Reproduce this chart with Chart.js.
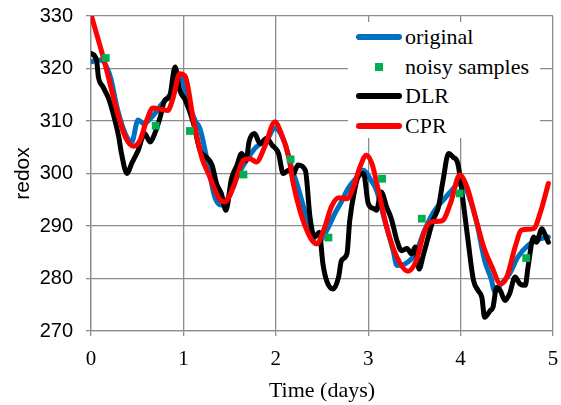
<!DOCTYPE html>
<html>
<head>
<meta charset="utf-8">
<script src="https://cdn.jsdelivr.net/npm/chart.js@4.4.1/dist/chart.umd.min.js"></script>
<style>
  html, body { margin:0; padding:0; background:#fff; }
  #wrap { position:relative; width:561px; height:405px; overflow:hidden; }
  #c { position:absolute; left:0; top:0; }
  #legend { position:absolute; left:348px; top:22px; width:192px; height:116px; background:#fff; }
  .row { position:absolute; left:0; height:30px; width:192px; }
  .sw { position:absolute; left:8px; width:46px; height:6px; top:12px; border-radius:3px; }
  .sq { position:absolute; left:27px; top:11px; width:8px; height:8px; }
  .lab { position:absolute; left:57px; top:0; line-height:30px; font-family:"Liberation Serif", serif; font-size:22px; color:#000; white-space:nowrap; }
</style>
</head>
<body>
<div id="wrap">
  <canvas id="c" width="561" height="405"></canvas>
  <div id="legend"></div>
</div>
<script>
// ---- data ----
const xTicks = [0, 1, 2, 3, 4, 5];
const yTicks = [270, 280, 290, 300, 310, 320, 330];

const seriesNames = ["original", "noisy samples", "DLR", "CPR"];

const originalX = [0, 0.10, 0.21, 0.28, 0.37, 0.44, 0.51, 0.57, 0.66, 0.77, 0.86, 0.93, 0.97, 1.04, 1.13, 1.18, 1.25, 1.34, 1.41, 1.49, 1.59, 1.72, 1.79, 1.90, 1.99, 2.10, 2.17, 2.24, 2.32, 2.39, 2.44, 2.50, 2.57, 2.64, 2.71, 2.78, 2.88, 2.95, 3.02, 3.09, 3.18, 3.27, 3.31, 3.40, 3.51, 3.61, 3.71, 3.81, 3.92, 4.01, 4.08, 4.17, 4.26, 4.33, 4.37, 4.44, 4.53, 4.62, 4.73, 4.82, 4.95];
const originalY = [321.3, 321.6, 318.4, 312.7, 307.6, 306.0, 310.2, 309.5, 310.8, 313.3, 315.2, 318.1, 318.7, 314.0, 310.0, 308.5, 303.1, 295.5, 294.0, 295.5, 299.7, 303.5, 305.1, 306.3, 308.6, 305.7, 301.2, 297.4, 292.4, 287.9, 286.6, 287.6, 289.8, 292.4, 294.6, 297.1, 299.3, 300.6, 299.0, 296.8, 291.0, 285.3, 282.5, 282.8, 284.7, 289.2, 292.7, 294.9, 297.1, 298.7, 296.2, 291.0, 283.4, 280.0, 277.5, 279.0, 280.9, 284.1, 286.3, 287.3, 287.9];

const sampleX = [0.16, 0.70, 1.07, 1.65, 2.16, 2.57, 3.15, 3.58, 3.99, 4.71];
const sampleY = [322.0, 309.1, 308.1, 299.8, 302.7, 287.8, 299.0, 291.4, 296.2, 283.9];

const dlrX = [0, 0.06, 0.08, 0.13, 0.19, 0.24, 0.30, 0.33, 0.39, 0.44, 0.51, 0.58, 0.64, 0.69, 0.75, 0.80, 0.85, 0.91, 0.96, 1.02, 1.11, 1.18, 1.25, 1.31, 1.36, 1.41, 1.46, 1.52, 1.58, 1.63, 1.68, 1.71, 1.77, 1.83, 1.90, 1.96, 2.03, 2.08, 2.14, 2.19, 2.24, 2.32, 2.37, 2.42, 2.47, 2.51, 2.55, 2.62, 2.68, 2.71, 2.77, 2.80, 2.86, 2.89, 2.95, 3.00, 3.06, 3.09, 3.14, 3.20, 3.25, 3.31, 3.36, 3.42, 3.47, 3.51, 3.55, 3.60, 3.65, 3.70, 3.76, 3.81, 3.87, 3.92, 3.97, 4.03, 4.08, 4.14, 4.19, 4.23, 4.26, 4.32, 4.35, 4.39, 4.43, 4.48, 4.53, 4.59, 4.64, 4.70, 4.73, 4.79, 4.82, 4.88, 4.91, 4.95];
const dlrY = [322.9, 321.6, 318.4, 316.5, 314.3, 311.4, 307.0, 303.8, 300.0, 301.9, 304.4, 307.6, 306.0, 307.6, 310.8, 314.0, 314.6, 320.3, 315.9, 314.0, 309.5, 304.4, 303.1, 301.6, 298.0, 296.2, 293.0, 299.0, 301.6, 303.8, 302.5, 306.0, 307.6, 305.7, 306.7, 305.4, 303.8, 300.0, 300.6, 300.0, 301.6, 300.6, 291.7, 287.9, 288.8, 282.8, 279.6, 278.0, 280.3, 283.4, 284.7, 291.0, 297.4, 299.3, 300.0, 294.3, 293.3, 293.0, 296.5, 293.6, 291.4, 287.3, 285.3, 285.7, 284.7, 286.0, 281.8, 284.7, 287.9, 291.0, 293.6, 298.7, 303.8, 303.1, 301.9, 294.3, 287.3, 279.6, 277.7, 276.4, 272.6, 273.9, 274.5, 278.3, 277.7, 275.8, 277.1, 280.3, 279.0, 278.7, 282.2, 287.9, 286.9, 289.5, 288.5, 286.9];

const cprX = [0, 0.15, 0.28, 0.37, 0.46, 0.53, 0.60, 0.67, 0.77, 0.83, 0.89, 0.96, 1.02, 1.11, 1.20, 1.27, 1.40, 1.45, 1.54, 1.65, 1.72, 1.79, 1.88, 1.99, 2.06, 2.14, 2.19, 2.26, 2.37, 2.44, 2.53, 2.60, 2.68, 2.77, 2.84, 2.91, 2.98, 3.04, 3.11, 3.20, 3.31, 3.43, 3.52, 3.60, 3.67, 3.80, 3.89, 3.99, 4.07, 4.16, 4.25, 4.34, 4.43, 4.50, 4.59, 4.66, 4.79, 4.86, 4.95];
const cprY = [330.3, 321.0, 312.0, 307.0, 305.2, 306.3, 310.0, 312.5, 312.2, 312.0, 314.5, 319.0, 318.5, 310.0, 303.0, 300.0, 294.9, 294.6, 297.4, 302.5, 302.8, 302.2, 305.1, 309.8, 307.6, 303.1, 298.0, 293.0, 287.9, 286.6, 289.8, 293.6, 295.4, 295.2, 297.4, 301.2, 303.5, 301.9, 296.8, 289.8, 284.1, 281.4, 283.4, 288.5, 290.7, 291.0, 294.3, 299.7, 297.4, 291.7, 286.0, 282.2, 279.0, 280.3, 286.0, 289.2, 289.5, 292.4, 298.1];

const colors = { original: "#0070C0", samples: "#00B050", dlr: "#000000", cpr: "#FF0000" };

// ---- build ----
const pts = (xs, ys) => xs.map((x, i) => ({ x: x, y: ys[i] }));
const lineDs = (label, xs, ys, color, order) => ({
  label, data: pts(xs, ys), borderColor: color, backgroundColor: color,
  borderWidth: 5, pointRadius: 0, cubicInterpolationMode: "monotone",
  borderCapStyle: "round", borderJoinStyle: "round", order, clip: 0
});

const gridColor = "#8c8c8c";
const noPad = s => { s.paddingLeft = 0; s.paddingRight = 0; s.paddingTop = 0; s.paddingBottom = 0; };

new Chart(document.getElementById("c"), {
  type: "line",
  data: {
    datasets: [
      lineDs(seriesNames[0], originalX, originalY, colors.original, 3),
      { label: seriesNames[1], data: pts(sampleX, sampleY), showLine: false,
        pointStyle: "rect", pointRadius: 5.5, pointBorderWidth: 0,
        backgroundColor: colors.samples, borderColor: colors.samples, order: 0 },
      lineDs(seriesNames[2], dlrX, dlrY, colors.dlr, 2),
      lineDs(seriesNames[3], cprX, cprY, colors.cpr, 1)
    ]
  },
  options: {
    responsive: false, animation: false, devicePixelRatio: 1,
    layout: { padding: { left: 0, right: 8, top: 16, bottom: 0 } },
    plugins: { legend: { display: false }, tooltip: { enabled: false } },
    scales: {
      x: {
        type: "linear", min: 0, max: 5,
        afterBuildTicks: s => { s.ticks = xTicks.map(v => ({ value: v })); },
        afterFit: s => { s.height = 74; noPad(s); },
        ticks: { font: { family: "Liberation Serif", size: 21 }, color: "#000", padding: 11, maxRotation: 0 },
        grid: { color: gridColor, lineWidth: 1.3, tickLength: 5, tickColor: gridColor },
        border: { color: gridColor, width: 1.3 },
        title: { display: true, text: "Time (days)", color: "#000",
                 font: { family: "Liberation Serif", size: 22 }, padding: { top: 0, bottom: 1 } }
      },
      y: {
        min: 270, max: 330,
        afterBuildTicks: s => { s.ticks = yTicks.map(v => ({ value: v })); },
        afterFit: s => { s.width = 91; noPad(s); },
        ticks: { font: { family: "Liberation Sans", size: 20 }, color: "#000", padding: 13 },
        grid: { color: gridColor, lineWidth: 1.3, tickLength: 5, tickColor: gridColor },
        border: { color: gridColor, width: 1.3 },
        title: { display: true, text: "redox", color: "#000",
                 font: { family: "Liberation Sans", size: 21 }, padding: { top: 11, bottom: 0 } }
      }
    }
  }
});

// ---- legend (HTML, on top of the plot) ----
const legend = document.getElementById("legend");
const legendItems = [
  { name: seriesNames[0], color: colors.original, kind: "line" },
  { name: seriesNames[1], color: colors.samples, kind: "square" },
  { name: seriesNames[2], color: colors.dlr, kind: "line" },
  { name: seriesNames[3], color: colors.cpr, kind: "line" }
];
legendItems.forEach((it, i) => {
  const row = document.createElement("div");
  row.className = "row";
  row.style.top = (0 + i * 29.5) + "px";
  const sw = document.createElement("div");
  sw.className = it.kind === "line" ? "sw" : "sq";
  sw.style.background = it.color;
  const lab = document.createElement("div");
  lab.className = "lab";
  lab.textContent = it.name;
  row.appendChild(sw); row.appendChild(lab);
  legend.appendChild(row);
});
</script>
</body>
</html>
